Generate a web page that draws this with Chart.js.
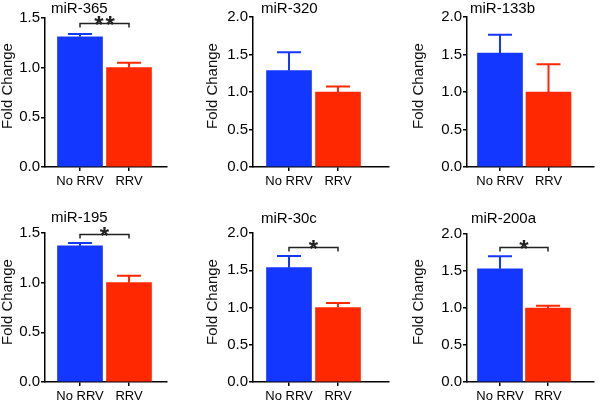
<!DOCTYPE html>
<html>
<head>
<meta charset="utf-8">
<script src="https://cdn.jsdelivr.net/npm/chart.js@4.4.1/dist/chart.umd.min.js"></script>
<style>
  html, body { margin: 0; padding: 0; background: #fff; }
  #grid { position: relative; width: 600px; height: 400px; }
  .panel { position: absolute; width: 200px; height: 200px; }
</style>
</head>
<body>
<div id="grid"></div>
<script>
/* Six fold-change bar panels, No RRV vs RRV. */
const PANEL_TITLES = ["miR-365", "miR-320", "miR-133b", "miR-195", "miR-30c", "miR-200a"];
const GROUPS = ["No RRV", "RRV"];
const NO_RRV_MEAN = [1.31, 1.285, 1.52, 1.37, 1.535, 1.53];
const NO_RRV_SEM = [0.03, 0.245, 0.245, 0.03, 0.155, 0.17];
const RRV_MEAN = [1.0, 1.0, 1.0, 1.0, 1.0, 1.0];
const RRV_SEM = [0.05, 0.075, 0.37, 0.07, 0.06, 0.03];
const Y_MAX = [1.5, 2.0, 2.0, 1.5, 2.0, 2.0];
const Y_STEP = 0.5;
const SIG_LABELS = ["**", "", "", "*", "*", "*"];
const SIG_LEVEL = [1.45, null, null, 1.49, 1.81, 1.82];
const Y_TITLE = "Fold Change";

const COLORS = {
  noRrv: "#1437ff",
  rrv: "#ff2800",
  axis: "#000",
  bracket: "#222",
};
const FONT = "'Liberation Sans', Arial, sans-serif";

// layout inside each 200x200 panel: chart area [left, right, top, bottom], bar centres
const PANEL_BOX = [
  [45, 167, 18, 167],
  [53, 189, 17, 167],
  [67, 194, 17, 167],
  [45, 167, 33, 182],
  [53, 189, 33, 182],
  [67, 194, 34, 182],
];
const BAR_CENTRES = [[80, 129], [89, 138], [100, 148.5], [80, 129], [89, 138], [100, 148]];
const TITLE_POS = [[51, 13], [61, 13], [70, 13], [51, 22], [61, 23], [71, 23]];
const YTITLE_POS = [[8, 86], [12.5, 86], [19, 86], [8, 102], [12.5, 102], [19, 102]];

function extrasPlugin(i) {
  return {
    id: "panelExtras",
    afterDraw(chart) {
      const { ctx } = chart;
      const x = chart.scales.x;
      const y = chart.scales.y;
      const means = [NO_RRV_MEAN[i], RRV_MEAN[i]];
      const sems = [NO_RRV_SEM[i], RRV_SEM[i]];
      const cols = [COLORS.noRrv, COLORS.rrv];
      ctx.save();

      // upper error bars
      ctx.lineWidth = 2;
      means.forEach((m, k) => {
        const px = x.getPixelForValue(k + 1);
        const y0 = y.getPixelForValue(m);
        const y1 = y.getPixelForValue(m + sems[k]);
        ctx.strokeStyle = cols[k];
        ctx.beginPath();
        ctx.moveTo(px, y0);
        ctx.lineTo(px, y1);
        ctx.moveTo(px - 12, y1);
        ctx.lineTo(px + 12, y1);
        ctx.stroke();
      });

      // significance bracket
      if (SIG_LABELS[i]) {
        const x1 = x.getPixelForValue(1);
        const x2 = x.getPixelForValue(2);
        const yb = Math.round(y.getPixelForValue(SIG_LEVEL[i])) + 0.5;
        ctx.strokeStyle = COLORS.bracket;
        ctx.lineWidth = 1.5;
        ctx.beginPath();
        ctx.moveTo(x1, yb + 4);
        ctx.lineTo(x1, yb);
        ctx.lineTo(x2, yb);
        ctx.lineTo(x2, yb + 4);
        ctx.stroke();
        ctx.fillStyle = COLORS.bracket;
        ctx.font = `bold 24px ${FONT}`;
        ctx.textAlign = "center";
        ctx.textBaseline = "alphabetic";
        const multi = SIG_LABELS[i].length > 1;
        if (multi) ctx.letterSpacing = "2px";
        ctx.fillText(SIG_LABELS[i], (x1 + x2) / 2 + (multi ? 1 : 0), yb + 9);
        ctx.letterSpacing = "0px";
      }

      // panel title
      ctx.fillStyle = "#000";
      ctx.font = `15px ${FONT}`;
      ctx.textAlign = "left";
      ctx.textBaseline = "alphabetic";
      ctx.fillText(PANEL_TITLES[i], TITLE_POS[i][0], TITLE_POS[i][1]);

      // y axis title
      ctx.translate(YTITLE_POS[i][0], YTITLE_POS[i][1]);
      ctx.rotate(-Math.PI / 2);
      ctx.textAlign = "center";
      ctx.textBaseline = "middle";
      ctx.fillStyle = "#111";
      ctx.fillText(Y_TITLE, 0, 0);
      ctx.restore();
    },
  };
}

function buildPanel(i) {
  const [left, right, top, bottom] = PANEL_BOX[i];
  const [c1, c2] = BAR_CENTRES[i];
  const unit = c2 - c1;

  const holder = document.createElement("div");
  holder.className = "panel";
  holder.style.left = `${(i % 3) * 200}px`;
  holder.style.top = `${Math.floor(i / 3) * 200}px`;
  const canvas = document.createElement("canvas");
  canvas.width = 200;
  canvas.height = 200;
  holder.appendChild(canvas);
  document.getElementById("grid").appendChild(holder);

  const axisGrid = {
    display: true,
    drawOnChartArea: false,
    drawTicks: true,
    offset: false,
    tickLength: 4,
    color: COLORS.axis,
    lineWidth: 1.5,
  };

  return new Chart(canvas, {
    type: "bar",
    data: {
      datasets: [
        {
          data: [
            { x: 1, y: NO_RRV_MEAN[i] },
            { x: 2, y: RRV_MEAN[i] },
          ],
          backgroundColor: [COLORS.noRrv, COLORS.rrv],
          borderWidth: 0,
          barThickness: 45,
        },
      ],
    },
    options: {
      responsive: false,
      animation: false,
      devicePixelRatio: 1,
      layout: { padding: { left: 0, top: top, right: 200 - right, bottom: 0 } },
      plugins: { legend: { display: false }, tooltip: { enabled: false }, title: { display: false } },
      scales: {
        x: {
          type: "linear",
          offset: false,
          min: 1 - (c1 - left) / unit,
          max: 2 + (right - c2) / unit,
          afterBuildTicks: (s) => { s.ticks = [{ value: 1 }, { value: 2 }]; },
          afterFit: (s) => { s.height = 200 - bottom; },
          grid: axisGrid,
          border: { display: true, color: COLORS.axis, width: 1.5 },
          ticks: {
            color: "#000",
            padding: 3,
            maxRotation: 0,
            font: { family: FONT, size: 13 },
            callback: (v, idx) => GROUPS[idx],
          },
        },
        y: {
          min: 0,
          max: Y_MAX[i],
          afterFit: (s) => { s.width = left; },
          grid: axisGrid,
          border: { display: true, color: COLORS.axis, width: 1.5 },
          ticks: {
            stepSize: Y_STEP,
            color: "#000",
            padding: 1,
            font: { family: FONT, size: 15 },
            callback: (v) => Number(v).toFixed(1),
          },
        },
      },
    },
    plugins: [extrasPlugin(i)],
  });
}

PANEL_TITLES.forEach((_, i) => buildPanel(i));
</script>
</body>
</html>
